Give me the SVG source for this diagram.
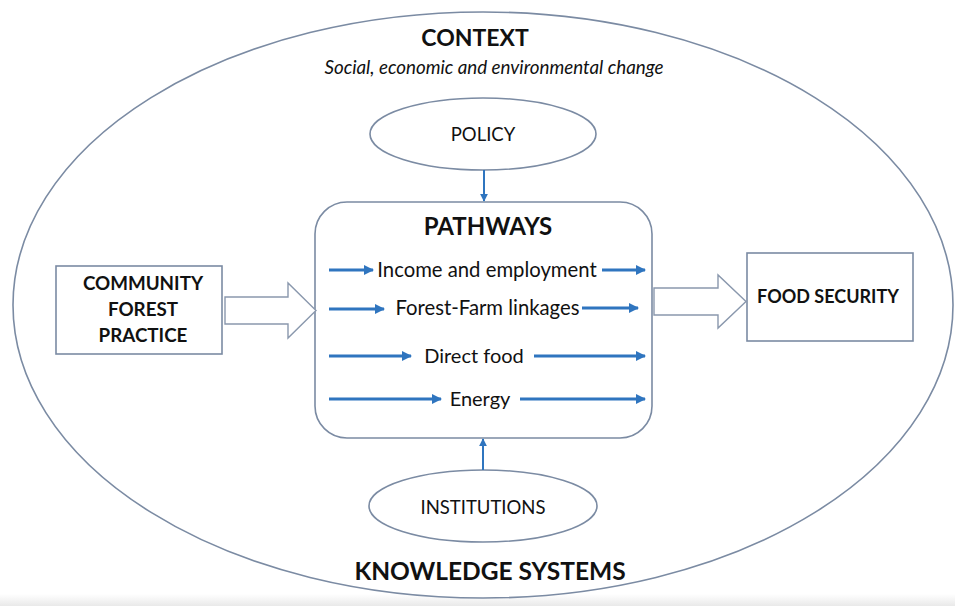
<svg xmlns="http://www.w3.org/2000/svg" width="955" height="606" viewBox="0 0 955 606">
<style>
.shape{fill:#fff;stroke:#7b8ba3;stroke-width:1.6}
.t{font-family:Lato,"Open Sans","Liberation Sans",sans-serif;fill:#111;text-anchor:middle}
.b{font-weight:bold}
.blue{stroke:#2f75bf;stroke-width:3;fill:none}
.thin{stroke:#2f75bf;stroke-width:2;fill:none}
.block{fill:#fff;stroke:#8a98ad;stroke-width:1.4}
</style>
<defs>
<linearGradient id="band" x1="0" y1="0" x2="0" y2="1">
<stop offset="0" stop-color="#ffffff"/>
<stop offset="1" stop-color="#e9e9e9"/>
</linearGradient>
<marker id="ah" viewBox="0 0 10 10" refX="9" refY="5" markerWidth="3.4" markerHeight="3.4" orient="auto" markerUnits="strokeWidth">
<path d="M0,0 L10,5 L0,10 z" fill="#2f75bf"/>
</marker>
<marker id="ah2" viewBox="0 0 10 10" refX="9" refY="5" markerWidth="4" markerHeight="4" orient="auto" markerUnits="strokeWidth">
<path d="M0,0 L10,5 L0,10 z" fill="#2f75bf"/>
</marker>
</defs>
<rect x="0" y="0" width="955" height="606" fill="#fff"/>
<rect x="0" y="594" width="955" height="12" fill="url(#band)"/>
<g id="context">
<ellipse class="shape" cx="483" cy="305" rx="470" ry="293"/>
<text class="t b" x="475" y="46" font-size="23">CONTEXT</text>
<text class="t" x="494" y="74" font-size="18.8" font-style="italic">Social, economic and environmental change</text>
<text class="t b" x="490" y="580" font-size="24.5">KNOWLEDGE SYSTEMS</text>
</g>
<g id="policy">
<ellipse class="shape" cx="483" cy="134" rx="113" ry="36"/>
<text class="t" x="483" y="141" font-size="18.5">POLICY</text>
</g>
<g id="institutions">
<ellipse class="shape" cx="483" cy="506" rx="114" ry="36"/>
<text class="t" x="483" y="514" font-size="18.5">INSTITUTIONS</text>
</g>
<g id="community">
<rect class="shape" x="56" y="266" width="166" height="88"/>
<text class="t b" x="143" y="290" font-size="18.8">COMMUNITY</text>
<text class="t b" x="143" y="316" font-size="18.8">FOREST</text>
<text class="t b" x="143" y="342" font-size="18.8">PRACTICE</text>
</g>
<g id="food">
<rect class="shape" x="747" y="253" width="166" height="88"/>
<text class="t b" x="828" y="303" font-size="18">FOOD SECURITY</text>
</g>
<g id="pathways">
<rect class="shape" x="315" y="202" width="337" height="236" rx="32" ry="32"/>
<text class="t b" x="488" y="235" font-size="24">PATHWAYS</text>
<text class="t" x="487" y="277" font-size="20.3">Income and employment</text>
<text class="t" x="487.5" y="315" font-size="20.3">Forest-Farm linkages</text>
<text class="t" x="474" y="363" font-size="20">Direct food</text>
<text class="t" x="480" y="406" font-size="20">Energy</text>
</g>
<g id="connectors">
<path class="block" d="M225,297 L288,297 L288,283 L316,310.5 L288,338 L288,324 L225,324 Z"/>
<path class="block" d="M654,288 L718,288 L718,275 L746,301.5 L718,328 L718,315 L654,315 Z"/>
<line class="thin" x1="484" y1="170" x2="484" y2="201" marker-end="url(#ah2)"/>
<line class="thin" x1="483" y1="470" x2="483" y2="439" marker-end="url(#ah2)"/>
<line class="blue" x1="329" y1="270" x2="373" y2="270" marker-end="url(#ah)"/>
<line class="blue" x1="602" y1="270" x2="645" y2="270" marker-end="url(#ah)"/>
<line class="blue" x1="329" y1="309" x2="384" y2="309" marker-end="url(#ah)"/>
<line class="blue" x1="582" y1="308" x2="638" y2="308" marker-end="url(#ah)"/>
<line class="blue" x1="329" y1="356" x2="411" y2="356" marker-end="url(#ah)"/>
<line class="blue" x1="534" y1="356" x2="645" y2="356" marker-end="url(#ah)"/>
<line class="blue" x1="329" y1="399" x2="441" y2="399" marker-end="url(#ah)"/>
<line class="blue" x1="520" y1="399" x2="645" y2="399" marker-end="url(#ah)"/>
</g>
</svg>
